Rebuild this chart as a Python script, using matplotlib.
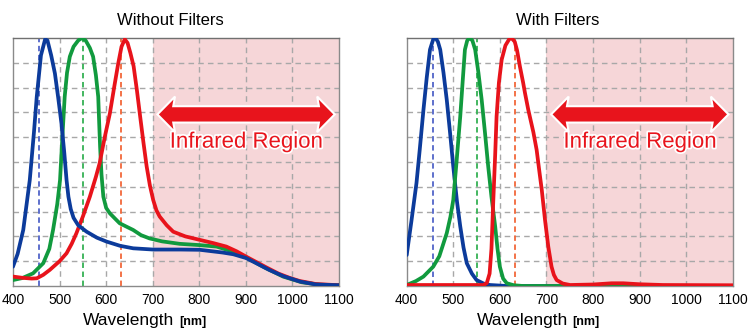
import matplotlib
matplotlib.use("Agg")
import matplotlib.pyplot as plt
import matplotlib.patheffects as pe
from matplotlib.patches import Polygon
import numpy as np

plt.rcParams['font.family'] = ['Liberation Sans', 'DejaVu Sans']

# ---------------- data ----------------
xticks = [400, 500, 600, 700, 800, 900, 1000, 1100]
titles = ["Without Filters", "With Filters"]

# Without filters
nf_blue_x = [400, 410, 422, 436, 445, 451, 460, 469, 474, 482, 490, 497, 504, 510, 515, 519, 524, 530, 540, 558, 580, 601, 630, 658, 701, 760, 801, 850, 873, 900, 916, 950, 980, 1016, 1051, 1100]
nf_blue_y = [0.078, 0.13, 0.226, 0.427, 0.62, 0.763, 0.93, 0.995, 0.99, 0.93, 0.857, 0.76, 0.656, 0.54, 0.427, 0.36, 0.31, 0.275, 0.245, 0.219, 0.195, 0.179, 0.162, 0.152, 0.147, 0.147, 0.146, 0.135, 0.128, 0.113, 0.098, 0.065, 0.04, 0.018, 0.006, 0.003]

nf_green_x = [400, 420, 443, 465, 478, 486, 495, 501, 506, 511, 516, 522, 530, 540, 548, 556, 565, 572, 578, 583, 585, 587, 590, 594, 600, 608, 620, 629, 645, 658, 675, 693, 720, 758, 800, 837, 870, 901, 940, 980, 1020, 1060, 1100]
nf_green_y = [0.024, 0.032, 0.051, 0.092, 0.15, 0.226, 0.33, 0.427, 0.6, 0.763, 0.86, 0.925, 0.965, 0.99, 1.0, 0.99, 0.96, 0.925, 0.85, 0.763, 0.66, 0.562, 0.45, 0.36, 0.315, 0.293, 0.27, 0.253, 0.238, 0.226, 0.205, 0.192, 0.18, 0.17, 0.165, 0.159, 0.14, 0.115, 0.075, 0.038, 0.015, 0.005, 0.003]

nf_red_x = [400, 420, 440, 451, 465, 479, 500, 515, 526, 536, 550, 565, 578, 586, 597, 608, 618, 626, 633, 640, 646, 652, 659, 666, 673, 680, 687, 694, 701, 708, 715, 730, 744, 770, 801, 830, 858, 880, 901, 922, 944, 970, 995, 1016, 1050, 1100]
nf_red_y = [0.038, 0.033, 0.03, 0.031, 0.045, 0.065, 0.1, 0.132, 0.17, 0.212, 0.28, 0.36, 0.44, 0.495, 0.6, 0.696, 0.81, 0.898, 0.965, 0.995, 0.98, 0.94, 0.886, 0.79, 0.684, 0.58, 0.482, 0.405, 0.347, 0.305, 0.28, 0.245, 0.219, 0.2, 0.186, 0.173, 0.159, 0.14, 0.118, 0.097, 0.075, 0.05, 0.032, 0.02, 0.008, 0.003]

nf_marks = [455, 550, 632]

# With filters
wf_blue_x = [400, 410, 421, 428, 436, 443, 450, 457, 462, 467, 472, 479, 486, 493, 500, 508, 515, 522, 529, 540, 550, 565, 579, 615, 1100]
wf_blue_y = [0.125, 0.26, 0.415, 0.55, 0.711, 0.84, 0.953, 0.995, 1.0, 0.985, 0.953, 0.86, 0.751, 0.62, 0.482, 0.34, 0.24, 0.155, 0.092, 0.05, 0.024, 0.01, 0.004, 0.0, 0.0]

wf_green_x = [400, 420, 436, 457, 470, 486, 494, 500, 507, 515, 520, 525, 530, 535, 541, 547, 554, 561, 568, 575, 582, 590, 595, 600, 607, 615, 630, 650, 1100]
wf_green_y = [0.004, 0.02, 0.038, 0.078, 0.12, 0.213, 0.28, 0.347, 0.5, 0.684, 0.82, 0.953, 0.99, 1.0, 0.99, 0.953, 0.86, 0.751, 0.62, 0.482, 0.36, 0.24, 0.15, 0.078, 0.03, 0.011, 0.003, 0.0, 0.0]

wf_red_x = [400, 500, 565, 572, 578, 582, 586, 590, 593, 598, 604, 612, 620, 625, 632, 637, 643, 650, 654, 661, 672, 679, 685, 690, 697, 704, 711, 716, 722, 735, 751, 800, 840, 865, 900, 950, 1100]
wf_red_y = [0.004, 0.004, 0.004, 0.012, 0.05, 0.15, 0.347, 0.53, 0.684, 0.82, 0.913, 0.97, 0.995, 1.0, 0.985, 0.95, 0.886, 0.82, 0.778, 0.711, 0.62, 0.549, 0.46, 0.388, 0.266, 0.159, 0.078, 0.045, 0.024, 0.01, 0.004, 0.006, 0.011, 0.011, 0.007, 0.004, 0.003]

wf_marks = [457, 550, 633]

# ---------------- style ----------------
C_BLUE = "#0c3b9b"
C_GREEN = "#119a3e"
C_RED = "#e8131b"
M_COLORS = ["#5264c8", "#35b154", "#f2683a"]
PINK = "#f6d6d8"
GRID = "#a8a8a8"

fig = plt.figure(figsize=(7.5, 3.29), dpi=100)
W, H = 750, 329
panels = [
    dict(left=13, title_dx=-6,
         series=[(nf_green_x, nf_green_y, C_GREEN), (nf_red_x, nf_red_y, C_RED), (nf_blue_x, nf_blue_y, C_BLUE)],
         marks=nf_marks, title=titles[0]),
    dict(left=406.7, title_dx=-12,
         series=[(wf_blue_x, wf_blue_y, C_BLUE), (wf_green_x, wf_green_y, C_GREEN), (wf_red_x, wf_red_y, C_RED)],
         marks=wf_marks, title=titles[1]),
]
aw, top, bot = 326.0, 38.0, 286.0

for p in panels:
    ax = fig.add_axes([p['left'] / W, 1 - bot / H, aw / W, (bot - top) / H])
    ax.set_xlim(400, 1100)
    ax.set_ylim(0, 1.0)
    ax.axvspan(700, 1100, color=PINK, zorder=0, lw=0)
    for gx in range(500, 1100, 100):
        ax.axvline(gx, color=GRID, lw=1.0, dashes=(4, 3), zorder=1)
    for gy in np.arange(0.1, 1.0, 0.1):
        ax.axhline(gy, color=GRID, lw=1.0, dashes=(4, 3), zorder=1)
    for mx, mc in zip(p['marks'], M_COLORS):
        ax.axvline(mx, color=mc, lw=1.3, dashes=(3, 2), zorder=2)
    for sx, sy, sc in p['series']:
        ax.plot(sx, sy, color=sc, lw=2.7, zorder=3, solid_joinstyle='round', solid_capstyle='round')
    ax.set_xticks(xticks)
    ax.set_xticklabels([str(t) for t in xticks], fontsize=10)
    ax.tick_params(axis='x', length=0, pad=5)
    ax.set_yticks([])
    for s in ax.spines.values():
        s.set_color("#8a8a8a")
        s.set_linewidth(1.0)
    ax.spines['top'].set_color("#707070")

    # title
    ax.text(0.5 + p['title_dx'] / aw, 1 + (bot - 25) / (bot - top) - 1, p['title'],
            transform=ax.transAxes, ha='center', va='baseline', fontsize=12)
    # x label
    ax.text(70 / aw, -(325 - bot) / (bot - top), "Wavelength", transform=ax.transAxes,
            ha='left', va='baseline', fontsize=12.5)
    ax.text(166 / aw, -(325 - bot) / (bot - top), "[nm]", transform=ax.transAxes,
            ha='left', va='baseline', fontsize=9, fontweight='bold')

    # double arrow (axes fraction)
    xl, xr = 0.443, 0.987
    hl = 0.054
    yc = 0.692
    sh, hh = 0.033, 0.072
    pts = [(xl, yc), (xl + hl, yc + hh), (xl + hl * 0.9, yc + sh), (xr - hl * 0.9, yc + sh),
           (xr - hl, yc + hh), (xr, yc), (xr - hl, yc - hh), (xr - hl * 0.9, yc - sh),
           (xl + hl * 0.9, yc - sh), (xl + hl, yc - hh)]
    arr = Polygon(pts, closed=True, transform=ax.transAxes, facecolor="#e8141c",
                  edgecolor="white", lw=1.5, zorder=4, joinstyle='miter')
    ax.add_patch(arr)
    ax.text(0.716, 0.58, "Infrared Region", transform=ax.transAxes, ha='center', va='center',
            fontsize=16, color="#e8141c", zorder=5,
            path_effects=[pe.withStroke(linewidth=2.5, foreground='white')])

fig.savefig("out.png", dpi=100)
